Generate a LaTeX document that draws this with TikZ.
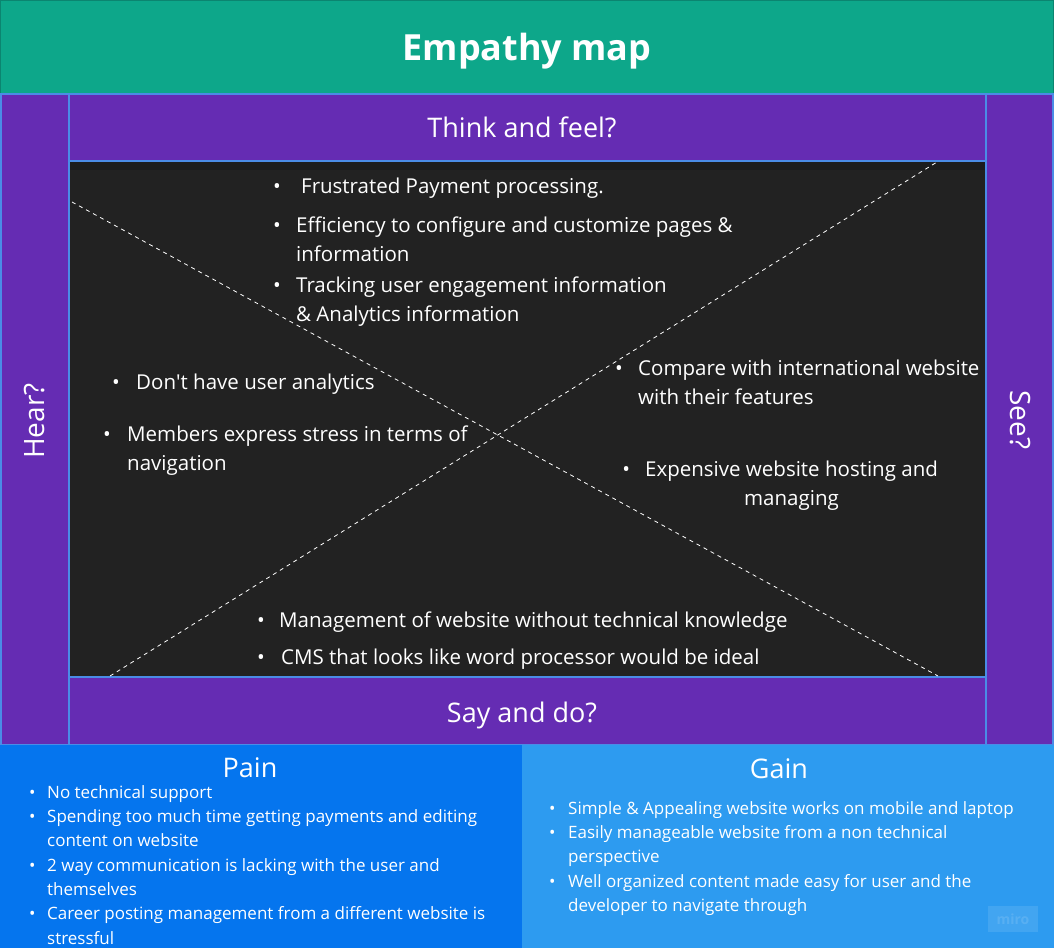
\documentclass[tikz,border=0pt]{standalone}
\usepackage{fontspec}
\setmainfont{Open Sans}
\usepackage{tikz}
\usetikzlibrary{positioning}

\definecolor{mapteal}{HTML}{0DA78A}
\definecolor{mapedge}{HTML}{0B8570}
\definecolor{mappurple}{HTML}{652CB3}
\definecolor{mapline}{HTML}{4A8CE6}
\definecolor{mapdark}{HTML}{222222}
\definecolor{mapstrip}{HTML}{1B1C1D}
\definecolor{painblue}{HTML}{0575EE}
\definecolor{gainblue}{HTML}{2D9BF0}

% bullet with a fixed gap before the text
\newcommand{\bul}[1]{\strut\makebox[#1][l]{\textbullet}}

\begin{document}
\begin{tikzpicture}[
  x=1pt, y=-1pt,
  head/.style={text=white, inner sep=0pt, anchor=base, font=\fontsize{27}{32}\selectfont},
  side/.style={head, font=\fontsize{28}{32}\selectfont},
  note/.style={text=white, inner sep=0pt, anchor=north west, align=left, font=\fontsize{20.5}{29}\selectfont},
  list/.style={note, font=\fontsize{17}{24.3}\selectfont},
  cut/.style={white, line width=0.8pt, dash pattern=on 4pt off 4pt},
  frame/.style={mapline, line width=1.5pt},
]
\useasboundingbox (0,0) rectangle (1054,948);

% bands and panels
\fill[mapteal] (0,0) rectangle (1054,94);
\draw[mapedge, line width=1pt] (0.5,0.5) rectangle (1053.5,93.5);
\fill[mappurple] (0,94) rectangle (1054,745);
\fill[mapdark] (69,161) rectangle (986,677);
\fill[mapstrip] (69,161) rectangle (986,170);
\draw[frame] (1,94) rectangle (69,745);
\draw[frame] (986,94) rectangle (1053,745);
\draw[frame] (69,94) rectangle (986,161);
\draw[frame] (69,677) rectangle (986,745);
\fill[painblue] (0,745) rectangle (522,948);
\fill[gainblue] (522,745) rectangle (1054,948);

% the two diagonals
\coordinate (tl) at (72,202);
\coordinate (br) at (938,676);
\coordinate (bl) at (110,676);
\coordinate (tr) at (937,162);
\draw[cut] (tl) -- (br);
\draw[cut] (bl) -- (tr);

% headings
\node[head, font=\bfseries\fontsize{36}{40}\selectfont] (title) at (527,60) {Empathy map};
\node[head] (think) at (522,137) {Think and feel?};
\node[head] (say) at (522,722) {Say and do?};
\node[side, rotate=90] (hear) at (44,421) {Hear?};
\node[side, rotate=-90] (see) at (1010,420) {See?};
\node[head] (pain) at (250,777) {Pain};
\node[head] (gain) at (779,778) {Gain};

% think and feel
\node[note] (think1) at (273,173.2) {\bul{28pt}Frustrated Payment processing.};
\node[note] (think2) at (273,212.2) {\bul{23pt}Efficiency to configure and customize pages \&\\
  \hspace*{23pt}information};
\node[note] (think3) at (273,272.2) {\bul{23pt}Tracking user engagement information\\
  \hspace*{23pt}\& Analytics information};

% hear
\node[note] (hear1) at (112,369.2) {\bul{24pt}Don\textquotesingle t have user analytics};
\node[note] (hear2) at (103,421.2) {\bul{24pt}Members express stress in terms of\\
  \hspace*{24pt}navigation};

% see
\node[note] (see1) at (615,355.2) {\bul{23pt}Compare with international website\\
  \hspace*{23pt}with their features};
\node[note, anchor=north, align=center] (see2) at (791.5,456.2) {\strut\llap{\textbullet\hspace{15pt}}Expensive website hosting and\\
  managing};

% say and do
\node[note] (say1) at (257,607.2) {\bul{22pt}Management of website without technical knowledge};
\node[note] (say2) at (257,644.2) {\bul{24pt}CMS that looks like word processor would be ideal};

% pain and gain
\node[list] (painlist) at (29,781) {\bul{18pt}No technical support\\
  \bul{18pt}Spending too much time getting payments and editing\\
  \hspace*{18pt}content on website\\
  \bul{18pt}2 way communication is lacking with the user and\\
  \hspace*{18pt}themselves\\
  \bul{18pt}Career posting management from a different website is\\
  \hspace*{18pt}stressful};
\node[list] (gainlist) at (549,797) {\bul{19pt}Simple \& Appealing website works on mobile and laptop\\
  \bul{19pt}Easily manageable website from a non technical\\
  \hspace*{19pt}perspective\\
  \bul{19pt}Well organized content made easy for user and the\\
  \hspace*{19pt}developer to navigate through};

% watermark
\node[fill=white, fill opacity=0.1, text=white, text opacity=0.12, minimum width=50pt, minimum height=26pt,
  inner sep=0pt, font=\bfseries\fontsize{14}{14}\selectfont] (miro) at (1013,919) {miro};
\end{tikzpicture}
\end{document}
